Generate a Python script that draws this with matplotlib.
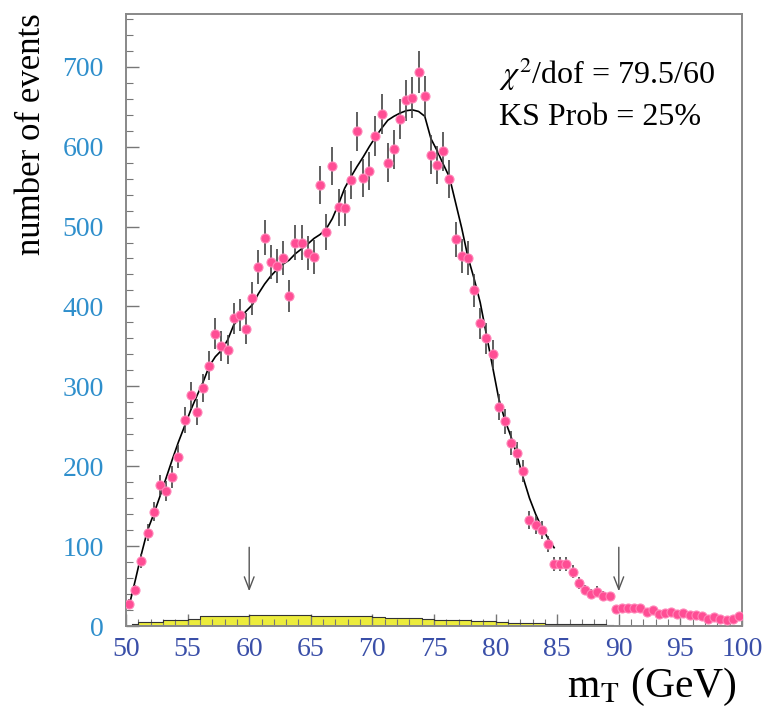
import numpy as np
import matplotlib
matplotlib.use('Agg')
import matplotlib.pyplot as plt
from matplotlib.ticker import MultipleLocator

plt.rcParams['font.family'] = ['Liberation Serif', 'DejaVu Serif']
plt.rcParams['mathtext.fontset'] = 'stix'

# bin centres, 0.5 GeV bins from 50 to 100
mt_centres = np.arange(50.25, 100.0, 0.5)

# data points (events per bin)
data_counts = [
    28, 45, 81, 117, 143, 176, 169, 187, 212, 258,
    289, 268, 298, 326, 366, 350, 346, 385, 389, 372,
    410, 449, 486, 456, 451, 461, 413, 480, 480, 467,
    462, 552, 493, 576, 524, 523, 558, 619, 561, 569,
    613, 641, 580, 597, 635, 658, 661, 693, 663, 590,
    577, 594, 559, 484, 463, 461, 420, 379, 360, 340,
    274, 256, 229, 216, 194, 133, 127, 120, 103, 78,
    78, 78, 68, 54, 45, 40, 43, 38, 37, 21,
    22, 23, 22, 23, 17, 20, 15, 16, 18, 15,
    16, 14, 14, 12, 9, 11, 9, 7, 9, 12,
]

# fitted template (black line), 50 - 85 GeV
model_centres = np.arange(50.25, 85.0, 0.5)
model_counts = [
    25, 57, 90, 120, 140, 162, 185, 208, 230, 250,
    270, 288, 305, 325, 337, 345, 358, 377, 386, 394,
    402, 416, 428, 438, 446, 453, 458, 466, 472, 478,
    485, 490, 497, 510, 528, 548, 562, 575, 587, 600,
    612, 623, 633, 638, 642, 645, 646, 644, 638, 610,
    595, 578, 562, 530, 498, 462, 435, 405, 365, 325,
    285, 258, 237, 213, 185, 160, 140, 123, 110, 98,
]

# background (yellow), 1 GeV bins from 50 to 90
bkg_centres = np.arange(50.5, 90.0, 1.0)
bkg_counts = [
    2, 5, 5, 7, 7, 9, 12, 12, 13, 13,
    14, 14, 14, 14, 14, 13, 13, 12, 12, 12,
    11, 10, 10, 10, 9, 8, 8, 7, 6, 6,
    5, 4, 4, 4, 3, 3, 2, 2, 2, 1,
]

arrow_x = [60, 90]
fit_text = ['$\\chi^2$/dof = 79.5/60', 'KS Prob = 25%']

fig = plt.figure(figsize=(7.69, 7.09), dpi=100)
ax = fig.add_axes([126/769, 1-626/709, 616/769, 612/709])

# yellow background
ax.fill_between(bkg_centres, 0, bkg_counts, step='mid', color='#ecec3c', lw=0, zorder=1)
ax.step(bkg_centres, bkg_counts, where='mid', color='#333333', lw=0.8, zorder=2)

# model line
ax.plot(model_centres, model_counts, color='black', lw=1.2, zorder=3)

# data with sqrt(N) errors
ax.errorbar(mt_centres, data_counts, yerr=np.sqrt(data_counts), fmt='none',
            ecolor='#444444', elinewidth=1.2, capsize=0, zorder=4)
ax.plot(mt_centres, data_counts, 'o', ms=6.5, mfc='#ff4d94', mec='#ff85b8',
        mew=0.8, zorder=5)

for xa in arrow_x:
    ax.annotate('', xy=(xa, 40), xytext=(xa, 102),
                arrowprops=dict(arrowstyle='->,head_length=0.9,head_width=0.35',
                                color='#555555', lw=1.0))

ax.set_xlim(50, 100)
ax.set_ylim(0, 766)

ax.xaxis.set_major_locator(MultipleLocator(5))
ax.xaxis.set_minor_locator(MultipleLocator(1))
ax.yaxis.set_major_locator(MultipleLocator(100))
ax.yaxis.set_minor_locator(MultipleLocator(20))
ax.tick_params(which='both', direction='in', top=False, right=False, color='#777777')
ax.tick_params(which='major', length=9, width=1.0)
ax.tick_params(which='minor', length=5, width=0.8)
ax.tick_params(axis='y', labelsize=20, labelcolor='#2f8fcc', pad=16)
ax.tick_params(axis='x', labelsize=20, labelcolor='#3a4fa8', pad=8)
for sp in ax.spines.values():
    sp.set_color('#888888')
    sp.set_linewidth(1.4)

ax.text(0.605, 0.886, fit_text[0], transform=ax.transAxes, fontsize=23, va='baseline')
ax.text(0.605, 0.819, fit_text[1], transform=ax.transAxes, fontsize=23, va='baseline')

fig.text(32/769, 1-13/709, 'number of events', rotation=90, va='top', ha='center',
         fontsize=25)
fig.text(737/769, 1-697/709, 'm$_\\mathrm{T}$ (GeV)', ha='right', va='baseline',
         fontsize=30)

fig.savefig('out.png', dpi=100)
